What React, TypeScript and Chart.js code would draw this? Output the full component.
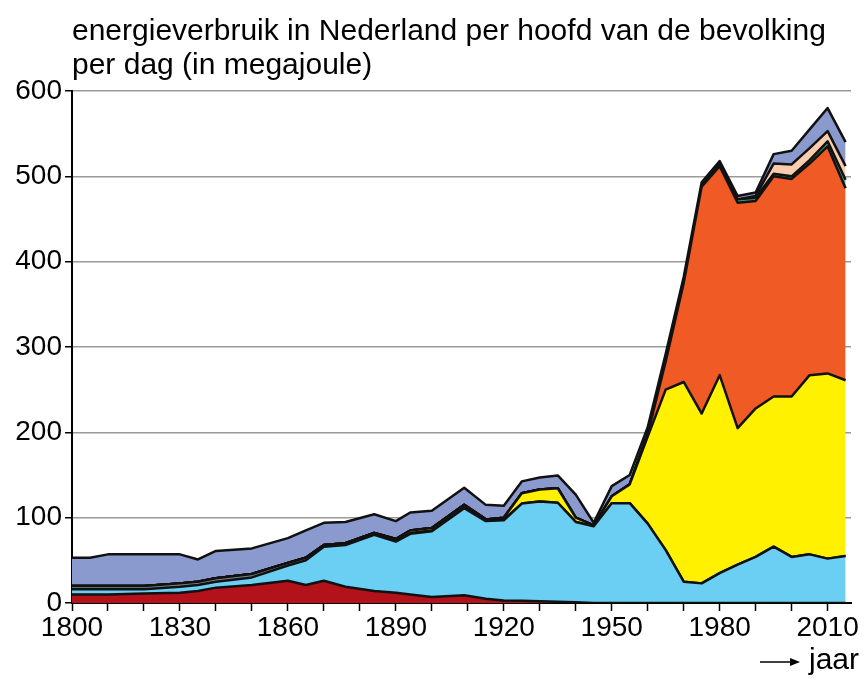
import React, { useEffect, useRef } from "react";
import { Chart, registerables } from "chart.js";

Chart.register(...registerables);

const TITLE_LINES = [
  "energieverbruik in Nederland per hoofd van de bevolking",
  "per dag (in megajoule)",
];
const X_LABEL = "jaar";

const years = [1800, 1805, 1810, 1820, 1830, 1835, 1840, 1850, 1860, 1865, 1870, 1876, 1884, 1890, 1894, 1900, 1909, 1915, 1920, 1925, 1930, 1935, 1940, 1945, 1950, 1955, 1960, 1965, 1970, 1975, 1980, 1985, 1990, 1995, 2000, 2005, 2010, 2015];

const wood = [10, 10, 10, 11, 12, 14, 18, 21, 26, 21, 26, 19, 14, 12, 10, 7, 9, 5, 3, 2.5, 2, 1.5, 1, 0, 0, 0, 0, 0, 0, 0, 0, 0, 0, 0, 0, 0, 0, 0];
const coal = [6, 6, 6, 5, 7, 7, 7, 9, 18, 29, 40, 49, 66, 60, 71, 77, 102, 91, 94, 114, 117, 116, 94, 90, 117, 117, 93, 62, 25, 23, 35, 45, 54, 66, 54, 57, 52, 55];
const wind = [4, 4, 4, 4, 4, 4, 4, 4, 3, 3, 2, 2, 2, 1, 1, 1, 1, 1, 1, 0, 0, 0, 0, 0, 0, 0, 0, 0, 0, 0, 0, 0, 0, 0, 0, 0, 0, 0];
const oil = [0, 0, 0, 0, 0, 0, 0, 0, 0, 0, 0, 0, 0, 2, 3, 3, 3, 1, 2, 12, 14, 17, 5, 1, 8, 22, 102, 188, 234, 199, 232, 160, 174, 176, 188, 210, 217, 206];
const gas = [0, 0, 0, 0, 0, 0, 0, 0, 0, 0, 0, 0, 0, 0, 0, 0, 0, 0, 0, 0, 0, 0, 0, 0, 0, 0, 3, 33, 116, 266, 245, 264, 243, 258, 255, 248, 266, 225];
const nuclear = [0, 0, 0, 0, 0, 0, 0, 0, 0, 0, 0, 0, 0, 0, 0, 0, 0, 0, 0, 0, 0, 0, 0, 0, 0, 0, 0, 0, 1, 1, 2, 4, 4, 3, 3, 4, 6, 10];
const renewable = [0, 0, 0, 0, 0, 0, 0, 0, 0, 0, 0, 0, 0, 0, 0, 0, 0, 0, 0, 0, 0, 0, 0, 0, 0, 0, 0, 0, 0, 0, 0, 0, 2, 12, 14, 14, 12, 16];
const peatOther = [33, 33, 37, 37, 34, 26, 32, 30, 29, 32, 26, 25, 22, 21, 21, 20, 20, 17, 14, 14, 14, 15, 27, 3, 12, 11, 8, 9, 6, 4, 4, 4, 4, 11, 16, 22, 27, 28];

const yTicks = [0, 100, 200, 300, 400, 500, 600];
const xTickYears = [1800, 1810, 1820, 1830, 1840, 1850, 1860, 1870, 1880, 1890, 1900, 1910, 1920, 1930, 1940, 1950, 1960, 1970, 1980, 1990, 2000, 2010];
const xLabelYears = [1800, 1830, 1860, 1890, 1920, 1950, 1980, 2010];

const FONT = '"Liberation Sans", Arial, sans-serif';

const series = [
  { label: "hout", values: wood, color: "#B3121A" },
  { label: "steenkool", values: coal, color: "#6BCFF4" },
  { label: "wind", values: wind, color: "#7E8B97" },
  { label: "olie", values: oil, color: "#FFF100" },
  { label: "aardgas", values: gas, color: "#F05A24" },
  { label: "kernenergie", values: nuclear, color: "#3AA876" },
  { label: "hernieuwbaar", values: renewable, color: "#F9CCAE" },
  { label: "turf en overig", values: peatOther, color: "#8A9ACF" },
];

const annotPlugin = {
  id: "annot",
  afterDraw(chart: any) {
    const ctx = chart.ctx;
    const area = chart.chartArea;
    ctx.save();
    ctx.fillStyle = "#000";
    ctx.textAlign = "left";
    ctx.textBaseline = "alphabetic";
    ctx.font = `30px ${FONT}`;
    TITLE_LINES.forEach((t, i) => ctx.fillText(t, area.left, 40 + i * 34));
    // arrow + jaar
    ctx.font = `30px ${FONT}`;
    ctx.textAlign = "right";
    ctx.fillText(X_LABEL, 859, 669);
    const w = ctx.measureText(X_LABEL).width;
    const ax = 859 - w - 9;
    ctx.strokeStyle = "#000";
    ctx.lineWidth = 1.5;
    ctx.beginPath();
    ctx.moveTo(ax - 40, 662);
    ctx.lineTo(ax - 4, 662);
    ctx.stroke();
    ctx.beginPath();
    ctx.moveTo(ax, 662);
    ctx.lineTo(ax - 10, 658);
    ctx.lineTo(ax - 10, 666);
    ctx.closePath();
    ctx.fill();
    ctx.restore();
  },
};

export default function App() {
  const ref = useRef<HTMLCanvasElement | null>(null);

  useEffect(() => {
    if (!ref.current) return;
    const datasets = series.map((s, i) => ({
      label: s.label,
      data: years.map((y, j) => ({ x: y, y: s.values[j] })),
      backgroundColor: s.color,
      borderColor: "#111",
      borderWidth: 2.5,
      pointRadius: 0,
      tension: 0,
      fill: i === 0 ? "origin" : "-1",
    }));
    const chart = new Chart(ref.current, {
      type: "line",
      data: { datasets },
      plugins: [annotPlugin],
      options: {
        animation: false,
        responsive: false,
        devicePixelRatio: 1,
        layout: { padding: { top: 91, right: 14, left: 0, bottom: 0 } },
        plugins: {
          legend: { display: false },
          tooltip: { enabled: false },
          title: { display: false },
        },
        elements: { line: { borderJoinStyle: "round" } },
        scales: {
          x: {
            type: "linear",
            min: 1800,
            max: 2016.5,
            ticks: {
              autoSkip: false,
              maxRotation: 0,
              padding: 0,
              color: "#000",
              font: { family: FONT, size: 28 },
              callback: (v: any) => (xLabelYears.includes(Number(v)) ? String(v) : ""),
            },
            afterBuildTicks: (axis: any) => {
              axis.ticks = xTickYears.map((v) => ({ value: v }));
            },
            grid: {
              drawOnChartArea: false,
              drawTicks: true,
              tickLength: 8,
              tickColor: "#000",
              tickWidth: 1.5,
            },
            border: { display: true, color: "#000", width: 2 },
            afterFit: (s: any) => {
              s.height = 77;
            },
          },
          y: {
            type: "linear",
            stacked: true,
            min: 0,
            max: 600,
            afterBuildTicks: (axis: any) => {
              axis.ticks = yTicks.map((v) => ({ value: v }));
            },
            ticks: {
              padding: 3,
              color: "#000",
              font: { family: FONT, size: 28 },
            },
            grid: {
              color: "#9a9a9a",
              lineWidth: 1.5,
              tickLength: 7,
              tickColor: "#000",
              tickWidth: 1.5,
            },
            border: { display: true, color: "#000", width: 2 },
            afterFit: (s: any) => {
              s.width = 72;
            },
          },
        },
      },
    });
    return () => chart.destroy();
  }, []);

  return (
    <div style={{ position: "absolute", left: 0, top: 0, width: 865, height: 680 }}>
      <canvas ref={ref} width={865} height={680} style={{ width: 865, height: 680 }} />
    </div>
  );
}
